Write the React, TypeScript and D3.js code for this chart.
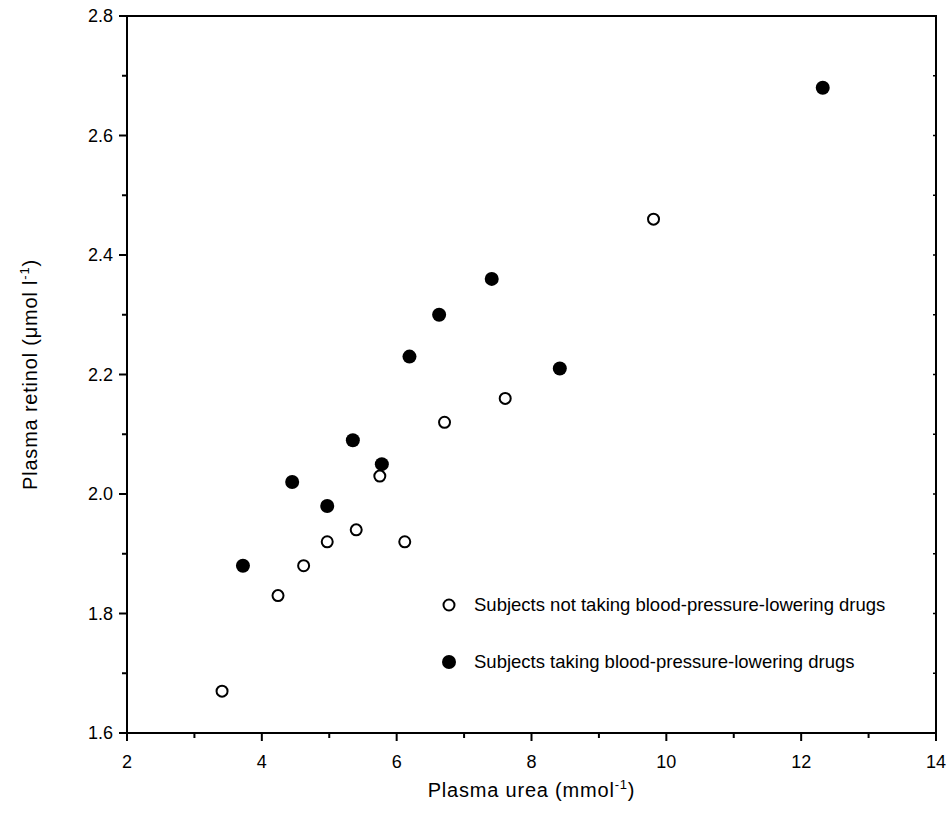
import React, { useEffect, useRef } from 'react';
import * as d3 from 'd3';

// subjects not taking blood-pressure-lowering drugs (open circles)
const notTakingUrea = [3.41, 4.24, 4.62, 4.97, 5.40, 6.12, 5.75, 6.71, 7.61, 9.81];
const notTakingRetinol = [1.67, 1.83, 1.88, 1.92, 1.94, 1.92, 2.03, 2.12, 2.16, 2.46];

// subjects taking blood-pressure-lowering drugs (filled circles)
const takingUrea = [3.72, 4.45, 4.97, 5.35, 5.78, 6.19, 6.63, 7.41, 8.42, 12.32];
const takingRetinol = [1.88, 2.02, 1.98, 2.09, 2.05, 2.23, 2.30, 2.36, 2.21, 2.68];

const xTicks = [2, 4, 6, 8, 10, 12, 14];
const yTicks = [1.6, 1.8, 2.0, 2.2, 2.4, 2.6, 2.8];

const legendLabels = [
  'Subjects not taking blood-pressure-lowering drugs',
  'Subjects taking blood-pressure-lowering drugs',
];

const App = () => {
  const ref = useRef<SVGSVGElement>(null);

  useEffect(() => {
    const svg = d3.select(ref.current);
    svg.selectAll('*').remove();

    const left = 127, right = 936, top = 16, bottom = 733;
    const font = 'Arial, "Liberation Sans", sans-serif';

    const x = d3.scaleLinear().domain([2, 14]).range([left, right]);
    const y = d3.scaleLinear().domain([1.6, 2.8]).range([bottom, top]);

    const g = svg.append('g');

    // minor ticks (odd values between the labelled ones)
    const xMinor = d3.range(3, 14, 2);
    const yMinor = d3.range(1.7, 2.75, 0.2);

    g.selectAll('.xmaj').data(xTicks).enter().append('line')
      .attr('x1', d => x(d)).attr('x2', d => x(d))
      .attr('y1', bottom).attr('y2', bottom + 8)
      .attr('stroke', '#000').attr('stroke-width', 2);
    g.selectAll('.xmin').data(xMinor).enter().append('line')
      .attr('x1', d => x(d)).attr('x2', d => x(d))
      .attr('y1', bottom).attr('y2', bottom + 5)
      .attr('stroke', '#000').attr('stroke-width', 2);
    g.selectAll('.ymaj').data(yTicks).enter().append('line')
      .attr('x1', left - 8).attr('x2', left)
      .attr('y1', d => y(d)).attr('y2', d => y(d))
      .attr('stroke', '#000').attr('stroke-width', 2);
    g.selectAll('.ymin').data(yMinor).enter().append('line')
      .attr('x1', left - 5).attr('x2', left)
      .attr('y1', d => y(d)).attr('y2', d => y(d))
      .attr('stroke', '#000').attr('stroke-width', 2);
    // small inner ticks on right axis
    g.selectAll('.rmin').data(yMinor.concat(yTicks)).enter().append('line')
      .attr('x1', right - 3).attr('x2', right)
      .attr('y1', d => y(d)).attr('y2', d => y(d))
      .attr('stroke', '#000').attr('stroke-width', 1.5);

    // frame
    g.append('rect')
      .attr('x', left).attr('y', top)
      .attr('width', right - left).attr('height', bottom - top)
      .attr('fill', 'none').attr('stroke', '#000').attr('stroke-width', 2);

    g.selectAll('.xl').data(xTicks).enter().append('text')
      .attr('x', d => x(d)).attr('y', bottom + 35)
      .attr('text-anchor', 'middle')
      .style('font-family', font).style('font-size', '18px')
      .text(d => d);
    g.selectAll('.yl').data(yTicks).enter().append('text')
      .attr('x', left - 14).attr('y', d => y(d) + 6)
      .attr('text-anchor', 'end')
      .style('font-family', font).style('font-size', '18px')
      .text(d => d.toFixed(1));

    // axis titles
    const xt = g.append('text')
      .attr('x', (left + right) / 2).attr('y', 797)
      .attr('text-anchor', 'middle')
      .style('font-family', font).style('font-size', '20px')
      .style('letter-spacing', '0.8px');
    xt.append('tspan').text('Plasma urea (mmol');
    xt.append('tspan').attr('dy', -8).style('font-size', '13px').text('-1');
    xt.append('tspan').attr('dy', 8).text(')');

    const yt = g.append('text')
      .attr('transform', `translate(37,${(top + bottom) / 2}) rotate(-90)`)
      .attr('text-anchor', 'middle')
      .style('font-family', font).style('font-size', '20px')
      .style('letter-spacing', '0.8px');
    yt.append('tspan').text('Plasma retinol (\u03bcmol l');
    yt.append('tspan').attr('dy', -8).style('font-size', '13px').text('-1');
    yt.append('tspan').attr('dy', 8).text(')');

    // points
    const open = d3.range(notTakingUrea.length);
    g.selectAll('.open').data(open).enter().append('circle')
      .attr('cx', i => x(notTakingUrea[i]))
      .attr('cy', i => y(notTakingRetinol[i]))
      .attr('r', 5.5)
      .attr('fill', '#fff').attr('stroke', '#000').attr('stroke-width', 2);
    const filled = d3.range(takingUrea.length);
    g.selectAll('.filled').data(filled).enter().append('circle')
      .attr('cx', i => x(takingUrea[i]))
      .attr('cy', i => y(takingRetinol[i]))
      .attr('r', 7)
      .attr('fill', '#000');

    // legend
    const legY = [605, 662];
    legendLabels.forEach((lab, i) => {
      if (i === 0) {
        g.append('circle').attr('cx', 449).attr('cy', legY[i]).attr('r', 5.5)
          .attr('fill', '#fff').attr('stroke', '#000').attr('stroke-width', 2);
      } else {
        g.append('circle').attr('cx', 449).attr('cy', legY[i]).attr('r', 7)
          .attr('fill', '#000');
      }
      g.append('text')
        .attr('x', 474).attr('y', legY[i] + 6)
        .style('font-family', font).style('font-size', '18.5px')
        .text(lab);
    });
  }, []);

  return (
    <svg
      ref={ref}
      width={949}
      height={829}
      style={{ position: 'absolute', left: 0, top: 0, background: '#fff' }}
    />
  );
};

export default App;
